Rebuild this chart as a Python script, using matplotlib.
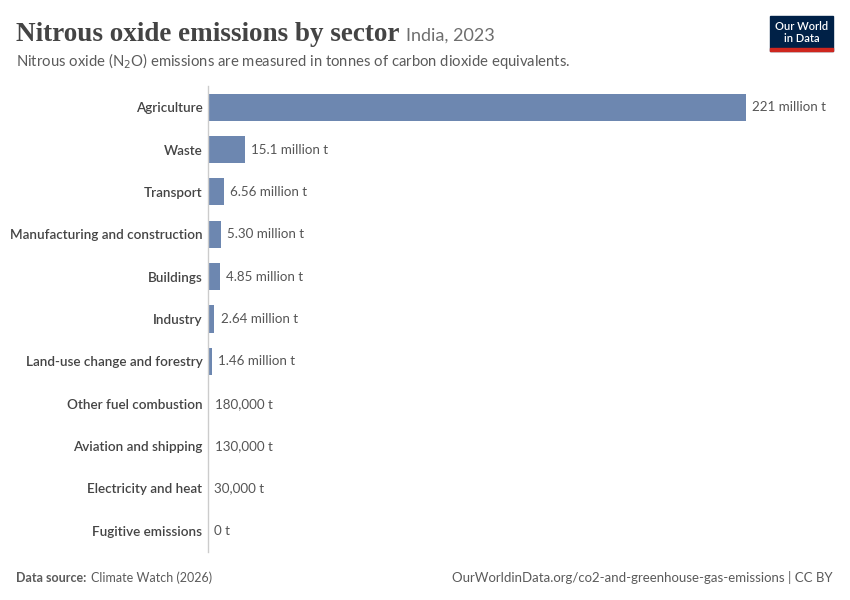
import matplotlib.pyplot as plt
from matplotlib.patches import Rectangle

# Datos (millones de toneladas CO2eq)
sectores = ['Agriculture', 'Waste', 'Transport', 'Manufacturing and construction',
            'Buildings', 'Industry', 'Land-use change and forestry',
            'Other fuel combustion', 'Aviation and shipping',
            'Electricity and heat', 'Fugitive emissions']
valores = [221, 15.1, 6.56, 5.30, 4.85, 2.64, 1.46, 0.18, 0.13, 0.03, 0]
etiquetas = ['221 million t', '15.1 million t', '6.56 million t', '5.30 million t',
             '4.85 million t', '2.64 million t', '1.46 million t', '180,000 t',
             '130,000 t', '30,000 t', '0 t']

color_barra = '#6d87b0'
gris = '#555555'

fig = plt.figure(figsize=(8.5, 6), dpi=100)
ax = fig.add_axes([208 / 850, 1 - 552 / 600, (746 - 208) / 850, (552 - 86) / 600])

pos = list(range(len(sectores)))
ax.barh(pos, valores, height=0.64, color=color_barra)
ax.set_xlim(0, 221)
ax.set_ylim(len(sectores) - 0.5, -0.5)

for p, v, t in zip(pos, valores, etiquetas):
    ax.annotate(t, (v, p), xytext=(4.5, 0), textcoords='offset points',
                va='center', ha='left', fontsize=9.6, color=gris, family='Lato')

ax.set_yticks(pos)
ax.set_yticklabels(sectores, fontsize=9.75, color='#444444', family='Lato',
                   fontweight='semibold')
ax.tick_params(axis='y', length=0, pad=4)
ax.set_xticks([])
for s in ['top', 'right', 'bottom']:
    ax.spines[s].set_visible(False)
ax.spines['left'].set_color('#cccccc')
ax.spines['left'].set_linewidth(1)

# Títulos
titulo = fig.text(16 / 850, 1 - 41 / 600, 'Nitrous oxide emissions by sector',
                  fontsize=19.5, family='Liberation Serif', fontweight='bold',
                  color='#444444')
fig.canvas.draw()
bb = titulo.get_window_extent()
fig.text((bb.x1 + 7) / 850, 1 - 41 / 600, 'India, 2023', fontsize=13, family='Lato',
         color='#6e6e6e')
fig.text(16 / 850, 1 - 66 / 600,
         'Nitrous oxide (N$_2$O) emissions are measured in tonnes of carbon dioxide equivalents.',
         fontsize=10.7, family='Lato', color='#5b5b5b')

# Logo
lx, ly, lw, lh = 770 / 850, 1 - 51 / 600, 63 / 850, 35 / 600
fig.patches.append(Rectangle((lx, ly), lw, lh, transform=fig.transFigure,
                             color='#002147', zorder=1))
fig.patches.append(Rectangle((lx, ly), lw, 3 / 600, transform=fig.transFigure,
                             color='#ce261e', zorder=2))
fig.text(lx + lw / 2, ly + lh / 2 + 1 / 600, 'Our World\nin Data', ha='center',
         va='center', fontsize=8, color='white', family='Lato', fontweight='semibold',
         linespacing=1.0)

# Pie
fig.text(16 / 850, 1 - 582 / 600, 'Data source:', fontsize=9, family='Lato',
         fontweight='bold', color='#5b5b5b')
fig.text(91 / 850, 1 - 582 / 600, 'Climate Watch (2026)', fontsize=9, family='Lato',
         color='#5b5b5b')
fig.text(833 / 850, 1 - 582 / 600,
         'OurWorldinData.org/co2-and-greenhouse-gas-emissions | CC BY',
         fontsize=9.5, family='Lato', color='#5b5b5b', ha='right')

fig.savefig('out.png', dpi=100)
